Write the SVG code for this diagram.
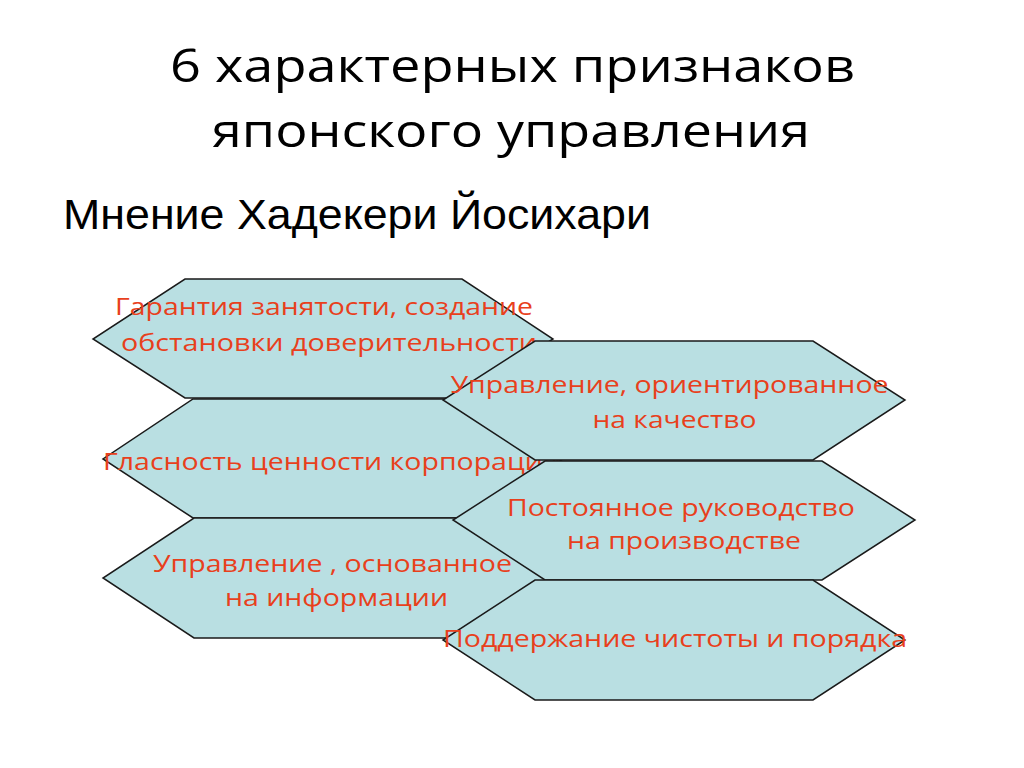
<svg xmlns="http://www.w3.org/2000/svg" width="1024" height="768" viewBox="0 0 1024 768">
<style>
.hex{fill:#B9DFE2;stroke:#1a1a1a;stroke-width:1.5;stroke-linejoin:miter}
.lbl{font-family:"Open Sans","Noto Sans","DejaVu Sans",sans-serif;font-size:24px;fill:#E8401C;text-anchor:middle}
.title{font-family:"Open Sans","Noto Sans","DejaVu Sans",sans-serif;font-size:45px;fill:#000;text-anchor:middle}
.sub{font-family:"Liberation Sans",Arial,sans-serif;font-size:42px;fill:#000}
</style>
<rect width="1024" height="768" fill="#ffffff"/>
<g id="title">
<text class="title" x="512.5" y="82" textLength="685" lengthAdjust="spacingAndGlyphs">6 характерных признаков</text>
<text class="title" x="511" y="147" textLength="598" lengthAdjust="spacingAndGlyphs">японского управления</text>
</g>
<text class="sub" x="63" y="229" textLength="588" lengthAdjust="spacingAndGlyphs">Мнение Хадекери Йосихари</text>
<g id="connectors"></g>
<g id="node-guarantee">
<polygon class="hex" points="185,279 462,279 553,339 462,398 185,398 93,339"/>
<text class="lbl" x="324" y="315" textLength="418" lengthAdjust="spacingAndGlyphs">Гарантия занятости, создание</text>
<text class="lbl" x="329" y="351" textLength="416" lengthAdjust="spacingAndGlyphs">обстановки доверительности</text>
</g>
<g id="node-glasnost">
<polygon class="hex" points="193,399 472,399 563,459 472,518 193,518 103,459"/>
<text class="lbl" x="332" y="470" textLength="458" lengthAdjust="spacingAndGlyphs">Гласность ценности корпорации</text>
</g>
<g id="node-information">
<polygon class="hex" points="194,518 472,518 563,578 472,638 194,638 103,578"/>
<text class="lbl" x="332.5" y="572" textLength="359" lengthAdjust="spacingAndGlyphs">Управление , основанное</text>
<text class="lbl" x="336.5" y="606" textLength="223" lengthAdjust="spacingAndGlyphs">на информации</text>
</g>
<g id="node-quality">
<polygon class="hex" points="535,341 813,341 905,400 813,460 535,460 443,400"/>
<text class="lbl" x="669.5" y="393" textLength="438" lengthAdjust="spacingAndGlyphs">Управление, ориентированное</text>
<text class="lbl" x="674.5" y="428" textLength="164" lengthAdjust="spacingAndGlyphs">на качество</text>
</g>
<g id="node-production">
<polygon class="hex" points="545,461 822,461 915,520 822,580 545,580 453,520"/>
<text class="lbl" x="681" y="516" textLength="348" lengthAdjust="spacingAndGlyphs">Постоянное руководство</text>
<text class="lbl" x="684" y="549" textLength="234" lengthAdjust="spacingAndGlyphs">на производстве</text>
</g>
<g id="node-order">
<polygon class="hex" points="535,580 813,580 905,640 813,700 535,700 443,640"/>
<text class="lbl" x="675" y="647" textLength="464" lengthAdjust="spacingAndGlyphs">Поддержание чистоты и порядка</text>
</g>
</svg>
